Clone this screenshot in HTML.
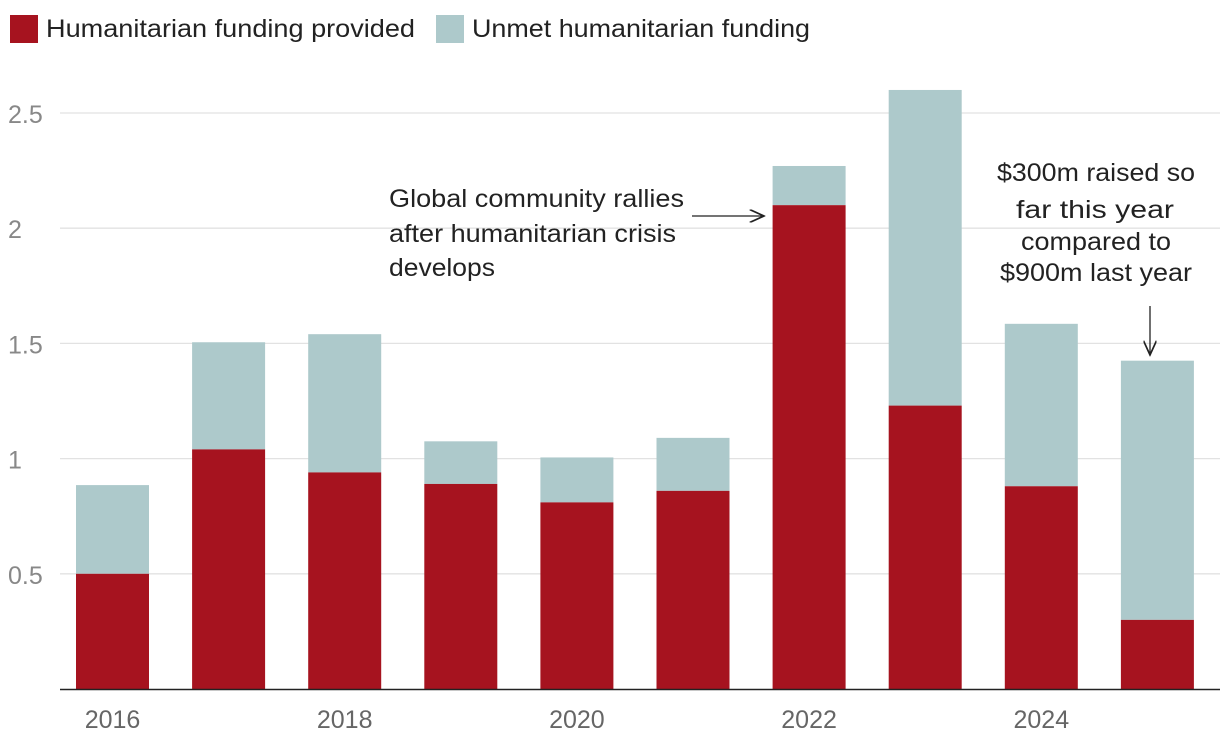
<!DOCTYPE html>
<html><head><meta charset="utf-8"><style>
body{margin:0;background:#fff;width:1220px;height:750px;overflow:hidden;font-family:"Liberation Sans",sans-serif}
svg text{font-family:"Liberation Sans",sans-serif}
</style></head><body>
<svg id="chart" width="1220" height="750">
<defs><marker id="ah" markerWidth="12" markerHeight="10" refX="11" refY="5" orient="auto"><path d="M0,0 L11,5 L0,10" fill="none" stroke="#222" stroke-width="1.3"/></marker></defs>
<g>
<rect x="10" y="15" width="28" height="28" fill="#a6131f"/>
<text x="46" y="37" font-size="25" fill="#222" textLength="369" lengthAdjust="spacingAndGlyphs">Humanitarian funding provided</text>
<rect x="436" y="15" width="28" height="28" fill="#adc9cb"/>
<text x="472" y="37" font-size="25" fill="#222" textLength="338" lengthAdjust="spacingAndGlyphs">Unmet humanitarian funding</text>
</g>
<g id="grid"></g><g id="bars"></g><g id="xaxis"></g>
<g>
<text x="389" y="207" font-size="25" fill="#222" textLength="295" lengthAdjust="spacingAndGlyphs">Global community rallies</text>
<text x="389" y="242" font-size="25" fill="#222" textLength="287" lengthAdjust="spacingAndGlyphs">after humanitarian crisis</text>
<text x="389" y="276" font-size="25" fill="#222" textLength="106" lengthAdjust="spacingAndGlyphs">develops</text>
<line x1="692" y1="216" x2="764" y2="216" stroke="#222" stroke-width="1.3" marker-end="url(#ah)"/>
</g>
<g>
<text x="997" y="181" font-size="25" fill="#222" textLength="198" lengthAdjust="spacingAndGlyphs">$300m raised so</text>
<text x="1016" y="218" font-size="25" fill="#222" textLength="158" lengthAdjust="spacingAndGlyphs">far this year</text>
<text x="1021" y="250" font-size="25" fill="#222" textLength="150" lengthAdjust="spacingAndGlyphs">compared to</text>
<text x="1000" y="281" font-size="25" fill="#222" textLength="192" lengthAdjust="spacingAndGlyphs">$900m last year</text>
<line x1="1150" y1="306" x2="1150" y2="355" stroke="#222" stroke-width="1.3" marker-end="url(#ah)"/>
</g>
</svg>
<script>
const years=[2016,2017,2018,2019,2020,2021,2022,2023,2024,2025];
const provided=[0.50,1.04,0.94,0.89,0.81,0.86,2.10,1.23,0.88,0.30];
const total=[0.885,1.505,1.54,1.075,1.005,1.09,2.27,2.60,1.585,1.425];
const yTicks=[0.5,1,1.5,2,2.5];
const yTickLabels=["0.5","1","1.5","2","2.5"];
const xLabels=["2016","","2018","","2020","","2022","","2024",""];
const NS="http://www.w3.org/2000/svg";
const y=v=>689-v*230.4;
const x=i=>76+i*116.1;
function mk(t,a,p){const e=document.createElementNS(NS,t);for(const k in a)e.setAttribute(k,a[k]);p.appendChild(e);return e;}
const g=document.getElementById('grid');
yTicks.forEach((v,i)=>{
const l=mk('line',{x1:60,x2:1220,y1:y(v),y2:y(v),stroke:'#e2e2e2','stroke-width':1.3},g);


const t=mk('text',{x:8,y:y(v)+10,'font-size':25,fill:'#888'},g);t.textContent=yTickLabels[i];


});
const b=document.getElementById('bars');
years.forEach((yr,i)=>{
const u=mk('rect',{x:x(i),width:73,y:y(total[i]),height:y(provided[i])-y(total[i]),fill:'#adc9cb'},b);


const r=mk('rect',{x:x(i),width:73,y:y(provided[i]),height:y(0)-y(provided[i]),fill:'#a6131f'},b);


});
const xa=document.getElementById('xaxis');
const al=mk('line',{x1:60,x2:1220,y1:689.5,y2:689.5,stroke:'#222','stroke-width':1.5},xa);


xLabels.forEach((s,i)=>{if(!s)return;
const t=mk('text',{x:x(i)+36.5,y:728,'font-size':25,fill:'#666','text-anchor':'middle'},xa);t.textContent=s;


});
</script>
</body></html>
